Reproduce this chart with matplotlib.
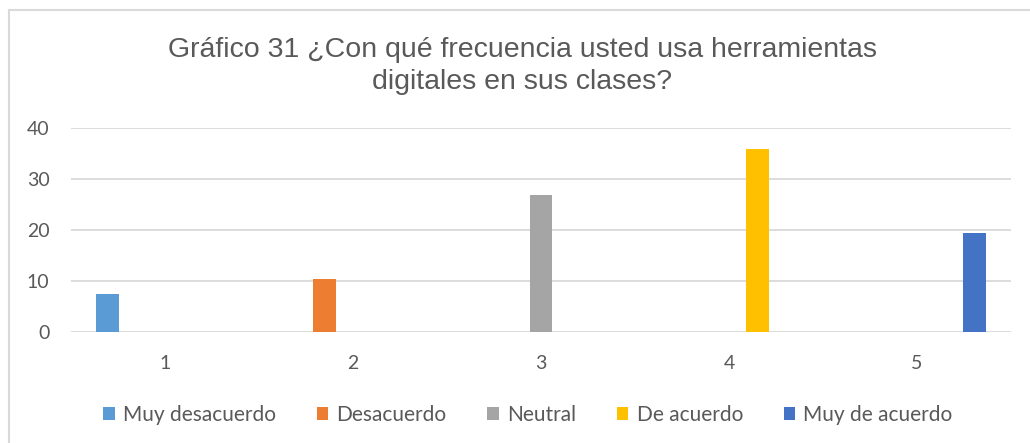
import numpy as np
import matplotlib
matplotlib.use('Agg')
import matplotlib.pyplot as plt
from matplotlib.patches import Rectangle

# Chart data (percentages)
categories = ['1', '2', '3', '4', '5']
series_names = ['Muy desacuerdo', 'Desacuerdo', 'Neutral', 'De acuerdo', 'Muy de acuerdo']
values = [7.5, 10.4, 26.9, 35.8, 19.4]
colors = ['#5B9BD5', '#ED7D31', '#A5A5A5', '#FFC000', '#4472C4']
y_ticks = [0, 10, 20, 30, 40]

text_color = '#595959'
grid_color = '#D9D9D9'

fig = plt.figure(figsize=(10.3, 4.43), dpi=100)
ax = fig.add_axes([71 / 1030, 1 - 332 / 443, 940 / 1030, 204 / 443])

x = np.arange(1, len(categories) + 1)
bar_w = 0.122
step = 0.153
# each series only has a value in its own category (Excel clustered layout)
table = np.diag(values)
for i, name in enumerate(series_names):
    ax.bar(x + (i - 2) * step, table[i], width=bar_w, color=colors[i],
           label=name, zorder=3)

ax.set_xlim(0.5, 5.5)
ax.set_ylim(0, 40)
ax.set_yticks(y_ticks)
ax.set_xticks(x)
ax.set_xticklabels(categories)
ax.grid(axis='y', color=grid_color, linewidth=1.3, zorder=0)
for s in ax.spines.values():
    s.set_visible(False)
ax.tick_params(length=0, labelsize=14, labelcolor=text_color)
ax.tick_params(axis='y', pad=15.5)
ax.tick_params(axis='x', pad=16.5)
for lab in ax.get_xticklabels() + ax.get_yticklabels():
    lab.set_family('Lato')

fig.text(522 / 1030, 1 - 57 / 443, 'Gráfico 31 ¿Con qué frecuencia usted usa herramientas',
         ha='center', va='baseline', fontsize=20.5, color=text_color,
         family='Liberation Sans')
fig.text(522 / 1030, 1 - 89 / 443, 'digitales en sus clases?',
         ha='center', va='baseline', fontsize=20.5, color=text_color,
         family='Liberation Sans')

leg = fig.legend(loc='center', bbox_to_anchor=(528 / 1030, 1 - 415 / 443), ncol=5,
                 frameon=False, prop={'family': 'Lato', 'size': 15},
                 handlelength=0.55, handleheight=0.55, handletextpad=0.4,
                 columnspacing=1.95, labelcolor=text_color)

# chart border (only top and left edges are inside the image)
fig.patches.append(Rectangle((8.5 / 1030, -0.1), 1.2, 1.1 - 10.5 / 443,
                             transform=fig.transFigure, fill=False,
                             edgecolor=grid_color, linewidth=1.5))

fig.savefig('out.png', dpi=100)
